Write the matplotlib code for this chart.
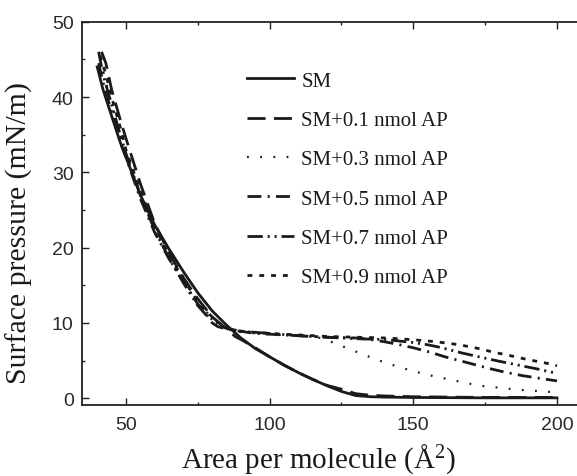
import matplotlib
matplotlib.use("Agg")
import matplotlib.pyplot as plt
from matplotlib.ticker import MultipleLocator

plt.rcParams['lines.scale_dashes'] = False
plt.rcParams['mathtext.fontset'] = 'custom'
plt.rcParams['mathtext.rm'] = 'Liberation Serif'
plt.rcParams['mathtext.it'] = 'Liberation Serif:italic'

# ---- data ----
sm_x = [40, 42, 45, 48, 50, 55, 60, 65, 70, 75, 80, 85, 90, 95, 100, 105, 110, 115, 120, 125, 130, 135, 140, 150, 175, 200]
sm_y = [44, 41, 37.5, 34, 32, 27, 23, 19.8, 16.8, 14, 11.6, 9.7, 8.0, 6.6, 5.5, 4.4, 3.4, 2.5, 1.65, 0.9, 0.35, 0.2, 0.15, 0.1, 0.05, 0.05]

ap01_x = [41.5, 43, 45, 48, 50, 55, 60, 65, 70, 75, 80, 85, 88, 90, 95, 100, 105, 110, 115, 120, 125, 130, 135, 140, 150, 175, 200]
ap01_y = [46, 44.5, 41, 37, 34.5, 28.5, 23.2, 19.3, 16.0, 13.2, 10.8, 9.2, 8.2, 7.8, 6.7, 5.5, 4.4, 3.4, 2.5, 1.7, 1.2, 0.6, 0.4, 0.3, 0.2, 0.1, 0.1]

ap03_x = [41, 43, 45, 48, 50, 55, 60, 65, 70, 75, 78, 80, 83, 86, 90, 95, 100, 110, 118, 124, 129, 134, 139, 144.5, 150, 155, 160, 165, 170, 175, 180, 185, 190, 196, 200]
ap03_y = [45, 42, 39, 35, 32.5, 27, 22.5, 18.8, 15.5, 12.5, 11.5, 10.6, 9.8, 9.0, 8.8, 8.6, 8.5, 8.3, 8.0, 7.1, 6.35, 5.6, 4.9, 4.2, 3.6, 3.1, 2.7, 2.3, 1.9, 1.57, 1.4, 1.17, 1.04, 0.9, 0.73]

ap05_x = [40.5, 42, 45, 48, 50, 55, 60, 65, 70, 75, 78, 80, 82, 85, 88, 95, 100, 110, 120, 130, 135, 140, 144, 150, 156, 161, 167, 172, 177, 182, 188, 193, 200]
ap05_y = [44.5, 42, 38, 34, 32, 26.5, 22, 18.5, 15.5, 12.5, 11.2, 10.0, 9.5, 9.2, 9.0, 8.6, 8.5, 8.3, 8.1, 8.0, 7.8, 7.5, 7.2, 6.7, 6.1, 5.5, 4.9, 4.4, 3.9, 3.45, 3.0, 2.7, 2.3]

ap07_x = [40.5, 42, 45, 48, 50, 55, 60, 65, 70, 75, 78, 80, 83, 86, 90, 100, 110, 120, 130, 140, 150, 155, 160, 167, 174, 180, 186.5, 193, 200]
ap07_y = [46, 43, 39, 35, 32.5, 27, 22.3, 18.6, 15.3, 12.3, 11.0, 10.5, 9.6, 9.2, 8.9, 8.6, 8.3, 8.1, 7.9, 7.8, 7.4, 7.1, 6.7, 6.0, 5.4, 4.9, 4.4, 3.9, 3.3]

ap09_x = [41, 43, 45, 48, 50, 55, 60, 65, 70, 75, 80, 83, 86, 90, 100, 110, 120, 130, 140, 145, 152, 158, 162, 166, 170, 174, 178, 182, 189, 193, 197, 200]
ap09_y = [45.5, 43, 40, 36, 33, 27.5, 22.8, 19, 15.8, 12.8, 10.8, 9.8, 9.2, 8.9, 8.6, 8.4, 8.2, 8.1, 8.0, 7.9, 7.7, 7.5, 7.3, 7.1, 6.8, 6.5, 6.1, 5.8, 5.2, 4.9, 4.6, 4.3]

labels = ['SM', 'SM+0.1 nmol AP', 'SM+0.3 nmol AP', 'SM+0.5 nmol AP',
          'SM+0.7 nmol AP', 'SM+0.9 nmol AP']
x_ticks = [50, 100, 150, 200]
y_ticks = [0, 10, 20, 30, 40, 50]

# ---- figure ----
W, H = 577, 477
fig = plt.figure(figsize=(W / 100, H / 100), dpi=100)
ax_left, ax_right, ax_top, ax_bot = 82, 585.7, 22.7, 406
ax = fig.add_axes([ax_left / W, 1 - ax_bot / H, (ax_right - ax_left) / W, (ax_bot - ax_top) / H])

ink = '#1a1a1a'
series = [
    (sm_x, sm_y, dict(linestyle='-', lw=2.0)),
    (ap01_x, ap01_y, dict(linestyle=(0, (13, 6)), lw=2.0)),
    (ap03_x, ap03_y, dict(linestyle=(0, (1.3, 8.2)), lw=1.6)),
    (ap05_x, ap05_y, dict(linestyle=(0, (10, 4.5, 1.5, 4.5)), lw=2.0)),
    (ap07_x, ap07_y, dict(linestyle=(0, (11, 3.5, 1.5, 3.5, 1.5, 3.5)), lw=2.0)),
    (ap09_x, ap09_y, dict(linestyle=(0, (3.5, 5)), lw=2.0)),
]
for (xs, ys, st), lab in zip(series, labels):
    ax.plot(xs, ys, color=ink, label=lab, **st)

ax.set_xlim(34.7, 210)
ax.set_ylim(-0.9, 50)
ax.set_xticks(x_ticks)
ax.set_yticks(y_ticks)
ax.xaxis.set_minor_locator(MultipleLocator(25))
ax.yaxis.set_minor_locator(MultipleLocator(5))

for sp in ax.spines.values():
    sp.set_color('#222222')
    sp.set_linewidth(1.3)
ax.spines['right'].set_visible(False)

ax.tick_params(which='both', direction='in', top=True, right=False, color='#222222', width=1.0)
ax.tick_params(which='major', length=5)
ax.tick_params(which='minor', length=2.5)
ax.tick_params(axis='x', which='both', top=True)
ax.tick_params(axis='x', which='major', labelsize=14, pad=8, labelcolor='#2a2a2a')
ax.tick_params(axis='y', which='major', labelsize=14, pad=6, labelcolor='#2a2a2a')
for t in ax.get_xticklabels() + ax.get_yticklabels():
    t.set_fontfamily('Liberation Sans')

fig.text(318 / W, 1 - 459 / H, r'Area per molecule (Å$^{2}$)', ha='center', va='center',
         fontsize=21, family='Liberation Serif', color=ink)
fig.text(19 / W, 1 - 233 / H, 'Surface pressure (mN/m)', ha='center', va='center',
         rotation=90, fontsize=21.5, family='Liberation Serif', color=ink)

leg = ax.legend(loc='upper left', bbox_to_anchor=(247 / W, 1 - 72 / H),
                bbox_transform=fig.transFigure, frameon=False, borderpad=0,
                borderaxespad=0,
                handlelength=2.25, handletextpad=0.35, labelspacing=0.95,
                prop={'family': 'Liberation Serif', 'size': 15})
for t in leg.get_texts():
    t.set_color(ink)

fig.savefig('out.png', dpi=100)
